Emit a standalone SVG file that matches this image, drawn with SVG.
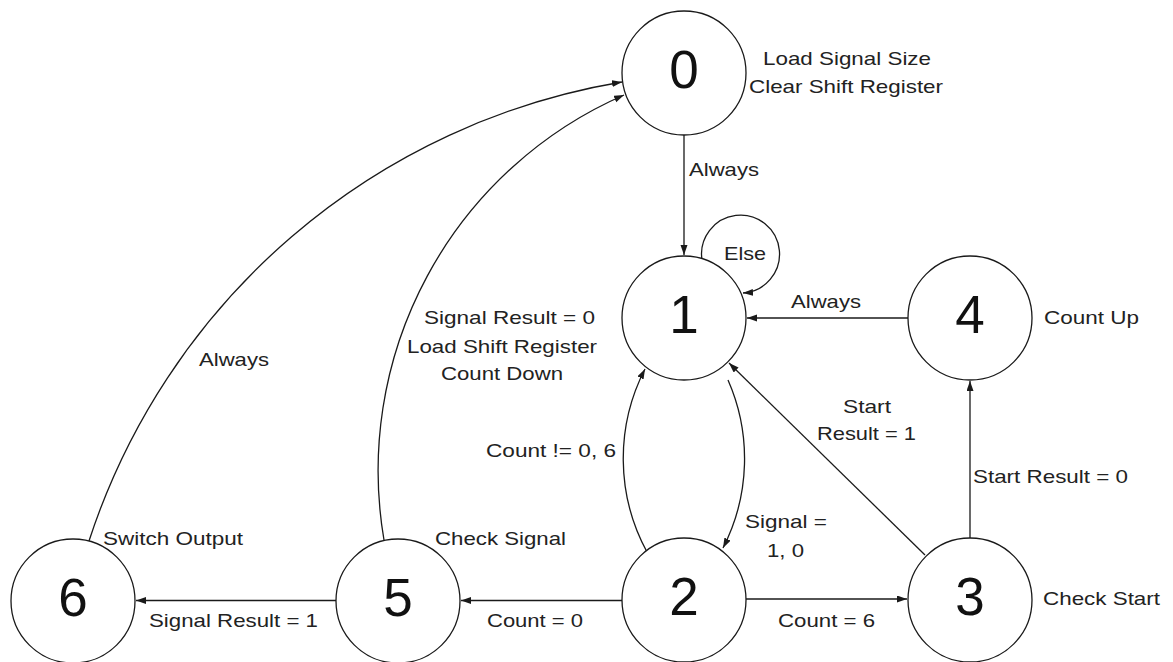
<svg xmlns="http://www.w3.org/2000/svg" width="1173" height="662" viewBox="0 0 1173 662">
<style>
.node{fill:#fff;stroke:#1a1a1a;stroke-width:1.3}
.num{font-family:"Liberation Sans",Arial,sans-serif;font-size:53px;fill:#111;text-anchor:middle}
.lbl{font-family:"Liberation Sans",Arial,sans-serif;font-size:19px;fill:#222}
.edge{fill:none;stroke:#1a1a1a;stroke-width:1.3;marker-end:url(#arr)}
</style>
<defs>
<marker id="arr" markerUnits="userSpaceOnUse" markerWidth="11" markerHeight="8" refX="10" refY="3.5" orient="auto">
<path d="M0,0 L10,3.5 L0,7 z" fill="#1a1a1a"/>
</marker>
</defs>
<rect width="1173" height="662" fill="#fff"/>
<g id="connectors">
<path class="edge" d="M684,135 L684,255"/>
<path class="edge" d="M702,260 A39,39 0 1,1 743,293"/>
<path class="edge" d="M908,318 L747,318"/>
<path class="edge" d="M647,552 A195.5,195.5 0 0,1 645,369"/>
<path class="edge" d="M728,380 A195.5,195.5 0 0,1 723,548"/>
<path class="edge" d="M925,555 L729,363"/>
<path class="edge" d="M970,539 L970,381"/>
<path class="edge" d="M746,599 L907,599"/>
<path class="edge" d="M622,600.5 L461,600.5"/>
<path class="edge" d="M336,600.5 L136,600.5"/>
<path class="edge" d="M384,540 A410,410 0 0,1 624,95"/>
<path class="edge" d="M89,541 A678,678 0 0,1 622,82"/>
</g>
<g id="edge-labels" class="lbl">
<text x="689" y="176" textLength="70" lengthAdjust="spacingAndGlyphs">Always</text>
<text x="724" y="260" textLength="42" lengthAdjust="spacingAndGlyphs">Else</text>
<text x="791" y="308" textLength="70" lengthAdjust="spacingAndGlyphs">Always</text>
<text x="424" y="324" textLength="171" lengthAdjust="spacingAndGlyphs">Signal Result = 0</text>
<text x="407" y="353" textLength="190" lengthAdjust="spacingAndGlyphs">Load Shift Register</text>
<text x="441" y="380" textLength="122" lengthAdjust="spacingAndGlyphs">Count Down</text>
<text x="199" y="366" textLength="70" lengthAdjust="spacingAndGlyphs">Always</text>
<text x="486" y="457" textLength="130" lengthAdjust="spacingAndGlyphs">Count != 0, 6</text>
<text x="843" y="413" textLength="48" lengthAdjust="spacingAndGlyphs">Start</text>
<text x="817" y="440" textLength="99" lengthAdjust="spacingAndGlyphs">Result = 1</text>
<text x="973" y="483" textLength="155" lengthAdjust="spacingAndGlyphs">Start Result = 0</text>
<text x="745" y="528" textLength="82" lengthAdjust="spacingAndGlyphs">Signal =</text>
<text x="767" y="557" textLength="37" lengthAdjust="spacingAndGlyphs">1, 0</text>
<text x="149" y="627" textLength="169" lengthAdjust="spacingAndGlyphs">Signal Result = 1</text>
<text x="487" y="627" textLength="96" lengthAdjust="spacingAndGlyphs">Count = 0</text>
<text x="778" y="627" textLength="97" lengthAdjust="spacingAndGlyphs">Count = 6</text>
</g>
<g id="node0">
<circle class="node" cx="684" cy="73" r="62"/>
<text class="num" x="684" y="88">0</text>
<text class="lbl" x="763" y="65" textLength="168" lengthAdjust="spacingAndGlyphs">Load Signal Size</text>
<text class="lbl" x="749" y="93" textLength="194" lengthAdjust="spacingAndGlyphs">Clear Shift Register</text>
</g>
<g id="node1">
<circle class="node" cx="684" cy="318" r="62"/>
<text class="num" x="684" y="333">1</text>
</g>
<g id="node4">
<circle class="node" cx="970" cy="318" r="62"/>
<text class="num" x="970" y="333">4</text>
<text class="lbl" x="1044" y="324" textLength="95" lengthAdjust="spacingAndGlyphs">Count Up</text>
</g>
<g id="node2">
<circle class="node" cx="684" cy="600" r="62"/>
<text class="num" x="684" y="615">2</text>
</g>
<g id="node3">
<circle class="node" cx="970" cy="600" r="62"/>
<text class="num" x="970" y="615">3</text>
<text class="lbl" x="1043" y="605" textLength="117" lengthAdjust="spacingAndGlyphs">Check Start</text>
</g>
<g id="node5">
<circle class="node" cx="398" cy="601" r="62"/>
<text class="num" x="398" y="616">5</text>
<text class="lbl" x="435" y="545" textLength="131" lengthAdjust="spacingAndGlyphs">Check Signal</text>
</g>
<g id="node6">
<circle class="node" cx="73" cy="601" r="62"/>
<text class="num" x="73" y="616">6</text>
<text class="lbl" x="103" y="545" textLength="140" lengthAdjust="spacingAndGlyphs">Switch Output</text>
</g>
</svg>
